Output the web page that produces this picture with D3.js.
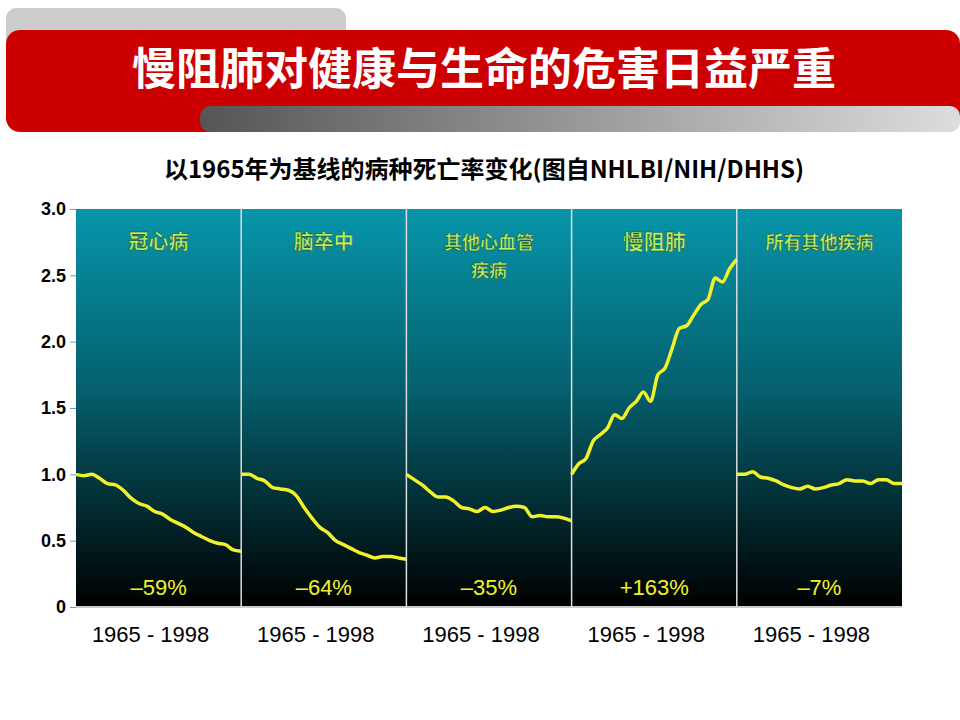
<!DOCTYPE html>
<html><head><meta charset="utf-8">
<script src="https://cdn.jsdelivr.net/npm/d3@7"></script>
<style>body{margin:0;background:#fff}</style>
</head><body>
<script>
// 数据：各病种以1965年为基线的死亡率
const categories = ['冠心病', '脑卒中', '其他心血管\n疾病', '慢阻肺', '所有其他疾病'];
const changes = ['\u201359%', '\u201364%', '\u201335%', '+163%', '\u20137%'];
const chd = [1.0,0.99,1.0,0.97,0.93,0.92,0.88,0.82,0.78,0.76,0.72,0.70,0.66,0.63,0.60,0.56,0.53,0.50,0.48,0.47,0.43,0.42];
const stroke = [1.0,1.0,0.97,0.95,0.9,0.89,0.88,0.84,0.75,0.67,0.6,0.56,0.5,0.47,0.44,0.41,0.39,0.37,0.38,0.38,0.37,0.36];
const otherCvd = [1.0,0.96,0.92,0.87,0.83,0.83,0.80,0.75,0.74,0.72,0.75,0.72,0.73,0.75,0.76,0.75,0.68,0.69,0.68,0.68,0.67,0.65];
const copd = [1.0,1.08,1.12,1.25,1.3,1.35,1.45,1.42,1.5,1.55,1.62,1.55,1.75,1.8,1.95,2.1,2.12,2.2,2.28,2.32,2.48,2.45,2.55,2.62];
const others = [1.0,1.0,1.02,0.98,0.97,0.95,0.92,0.90,0.89,0.91,0.89,0.90,0.92,0.93,0.96,0.95,0.95,0.93,0.96,0.96,0.93,0.93];
const series = [chd, stroke, otherCvd, copd, others];
const yTicks = [0, 0.5, 1.0, 1.5, 2.0, 2.5, 3.0];
const periodLabel = '1965 - 1998';

const svg = d3.select('body').append('svg').attr('width', 960).attr('height', 720);
const defs = svg.append('defs');

// 标题栏
const hg = defs.append('linearGradient').attr('id', 'hg');
hg.append('stop').attr('offset', '0%').attr('stop-color', '#555');
hg.append('stop').attr('offset', '100%').attr('stop-color', '#ddd');
svg.append('rect').attr('x', 6).attr('y', 8).attr('width', 340).attr('height', 40).attr('rx', 10).attr('fill', '#ccc');
svg.append('rect').attr('x', 6).attr('y', 30).attr('width', 954).attr('height', 102).attr('rx', 14).attr('fill', '#cc0000');
svg.append('rect').attr('x', 200).attr('y', 106).attr('width', 760).attr('height', 26).attr('rx', 10).attr('fill', 'url(#hg)');
svg.append('text').attr('x', 484).attr('y', 85).attr('text-anchor', 'middle')
  .attr('font-family', 'Noto Sans CJK SC').attr('font-weight', 'bold').attr('font-size', 44).attr('fill', '#fff')
  .text('慢阻肺对健康与生命的危害日益严重');
svg.append('text').attr('x', 484).attr('y', 178).attr('text-anchor', 'middle')
  .attr('font-family', 'Noto Sans CJK SC').attr('font-weight', 'bold').attr('font-size', 24).attr('fill', '#000')
  .text('以1965年为基线的病种死亡率变化(图自NHLBI/NIH/DHHS)');

const pLeft = 76, pRight = 902, pTop = 209, pBottom = 607;
const y = d3.scaleLinear().domain([0, 3]).range([pBottom, pTop]);
const xBand = d3.scaleBand().domain(categories).range([pLeft, pRight]);

const bg = defs.append('linearGradient').attr('id', 'bg').attr('x1', 0).attr('x2', 0).attr('y1', 0).attr('y2', 1);
bg.append('stop').attr('offset', '0%').attr('stop-color', '#0795aa');
bg.append('stop').attr('offset', '45%').attr('stop-color', '#05606e');
bg.append('stop').attr('offset', '100%').attr('stop-color', '#000');
svg.append('rect').attr('x', pLeft).attr('y', pTop).attr('width', pRight - pLeft).attr('height', pBottom - pTop).attr('fill', 'url(#bg)');

// Y轴
svg.append('g').attr('transform', `translate(${pLeft},0)`)
  .call(d3.axisLeft(y).tickValues(yTicks).tickSize(6).tickFormat(d => d === 0 ? '0' : d3.format('.1f')(d)))
  .call(g => g.select('.domain').remove())
  .call(g => g.selectAll('line').attr('stroke', '#5ab'))
  .call(g => g.selectAll('text').attr('font-family', 'Liberation Sans').attr('font-weight', 'bold')
    .attr('font-size', 18).attr('fill', '#000').attr('x', -10));

svg.append('line').attr('x1', pLeft).attr('x2', pRight).attr('y1', pBottom).attr('y2', pBottom).attr('stroke', '#ccc').attr('stroke-width', 2);

categories.forEach((c, i) => {
  const x0 = xBand(c), w = xBand.bandwidth();
  if (i > 0) svg.append('line').attr('x1', x0).attr('x2', x0).attr('y1', pTop).attr('y2', pBottom).attr('stroke', '#ddd').attr('stroke-width', 1.5);
  const data = series[i];
  const x = d3.scaleLinear().domain([0, data.length - 1]).range([x0, x0 + w]);
  svg.append('path').datum(data)
    .attr('d', d3.line().x((d, j) => x(j)).y(d => y(d)).curve(d3.curveMonotoneX))
    .attr('fill', 'none').attr('stroke', '#f2f22a').attr('stroke-width', 3.5);
  const lines = c.split('\n');
  lines.forEach((t, k) => {
    svg.append('text').attr('x', x0 + w / 2).attr('y', 249 + k * 28).attr('text-anchor', 'middle')
      .attr('font-family', 'Noto Sans CJK SC').attr('font-weight', 'bold')
      .attr('font-size', c === '慢阻肺' ? 21 : (lines.length > 1 || c.length > 4 ? 18 : 20))
      .attr('fill', '#b9f06a').attr('stroke', '#1d3a10').attr('stroke-width', 0.4).text(t);
  });
  svg.append('text').attr('x', x0 + w / 2).attr('y', 595).attr('text-anchor', 'middle')
    .attr('font-family', 'Liberation Sans').attr('font-size', 22).attr('fill', '#f2f22a').text(changes[i]);
  svg.append('text').attr('x', x0 + w / 2 - 8).attr('y', 642).attr('text-anchor', 'middle')
    .attr('font-family', 'Liberation Sans').attr('font-size', 22).attr('fill', '#000').text(periodLabel);
});
</script>
</body></html>
